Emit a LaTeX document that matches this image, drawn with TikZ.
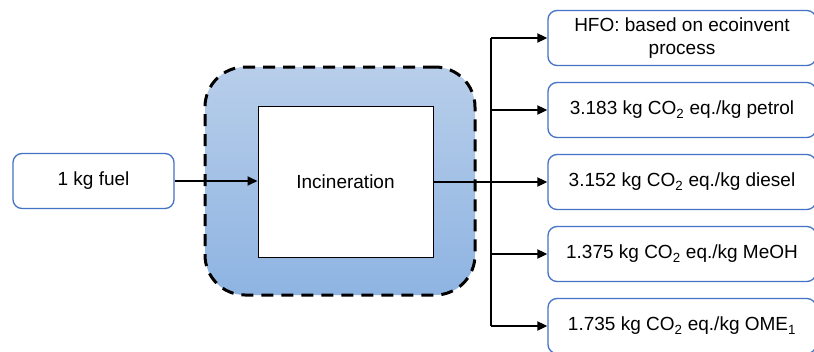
\documentclass[tikz,border=0pt]{standalone}
\usepackage{fontspec}
\setmainfont{Liberation Sans}
\usetikzlibrary{arrows.meta}
\definecolor{boxblue}{RGB}{68,114,196}
\definecolor{shadetop}{RGB}{184,206,234}
\definecolor{shadebot}{RGB}{142,180,226}
\tikzset{
  inbox/.style={draw=boxblue, line width=1.3pt, rounded corners=9pt, fill=white,
    minimum height=55pt, inner sep=0pt, align=center,
    font=\fontsize{19}{23}\selectfont},
  outbox/.style={inbox, minimum width=268pt},
  procbox/.style={draw=black, line width=1pt, fill=white, minimum width=175pt,
    minimum height=151pt, inner sep=0pt, font=\fontsize{19}{23}\selectfont},
  sysbound/.style={draw=black, line width=3pt, dash pattern=on 12pt off 8pt,
    rounded corners=40pt, top color=shadetop, bottom color=shadebot,
    minimum width=270pt, minimum height=228pt, inner sep=0pt},
  flow/.style={draw=black, line width=1.8pt, -{Triangle[length=10pt,width=9pt]}},
  trunk/.style={draw=black, line width=1.8pt}
}
\begin{document}
\begin{tikzpicture}[x=1pt,y=-1pt]
  \clip (0,0) rectangle (814,351);
  \fill[white] (0,0) rectangle (814,351);

  % system boundary and the incineration process
  \node[sysbound] (sys) at (340,181) {};
  \node[procbox] (inc) at (345.5,181.5) {Incineration};

  % input
  \node[inbox, minimum width=161pt] (fuel) at (93.5,181) {1 kg fuel};

  % outputs
  \node[outbox] (o1) at (682,38) {HFO: based on ecoinvent\\process};
  \node[outbox] (o2) at (682,110) {3.183 kg CO\textsubscript{2} eq./kg petrol};
  \node[outbox] (o3) at (682,182) {3.152 kg CO\textsubscript{2} eq./kg diesel};
  \node[outbox] (o4) at (682,254) {1.375 kg CO\textsubscript{2} eq./kg MeOH};
  \node[outbox] (o5) at (682,326) {1.735 kg CO\textsubscript{2} eq./kg OME\textsubscript{1}};

  % flows
  \draw[flow] (fuel.east) -- (inc.west |- fuel.east);
  \coordinate (j) at (491,182);
  \draw[trunk] (inc.east |- j) -- (j);
  \draw[trunk] (o1.west -| j) -- (o5.west -| j);
  \foreach \o in {o1,o2,o3,o4,o5}
    \draw[flow] (\o.west -| j) -- (\o.west);
\end{tikzpicture}
\end{document}
